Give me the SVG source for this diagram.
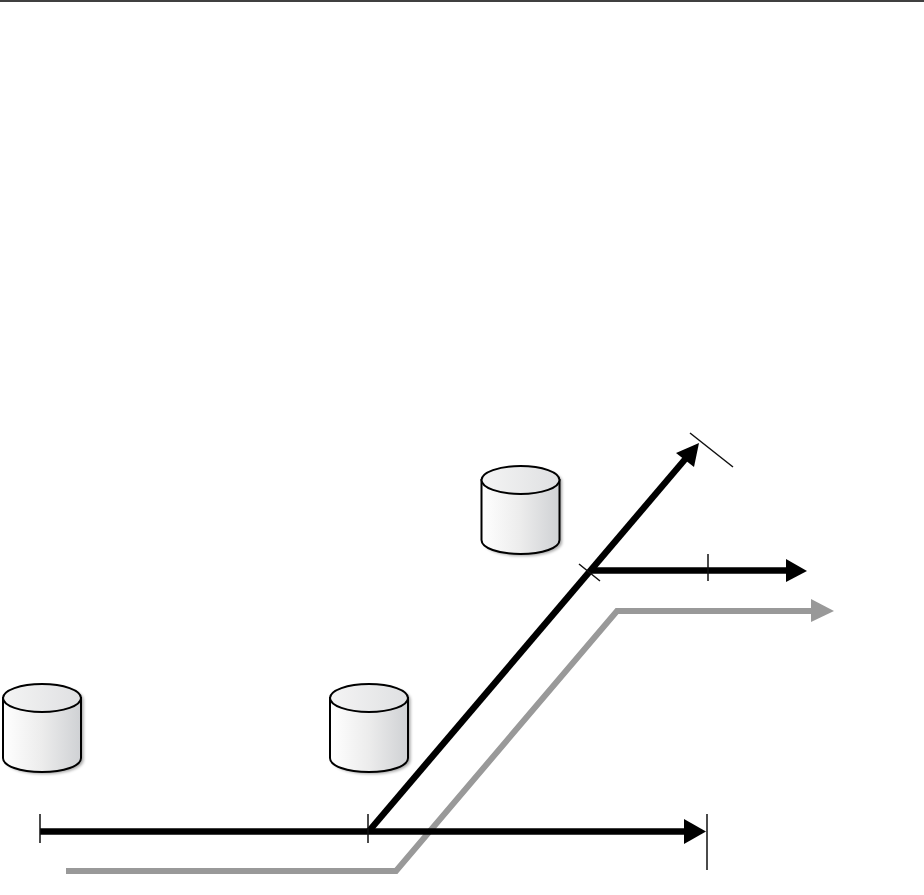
<svg xmlns="http://www.w3.org/2000/svg" width="924" height="895" viewBox="0 0 924 895">
<style>
.body{fill:url(#cyl);stroke:#000;stroke-width:2}
.top{fill:url(#cyltop);stroke:#000;stroke-width:2}
.shadow{fill:#000;opacity:.35;filter:url(#blur)}
.blk{fill:none;stroke:#000;stroke-width:6.500}
.gry{fill:none;stroke:#999;stroke-width:6}
.tick{fill:none;stroke:#111;stroke-width:1.500}
</style>
<defs>
<linearGradient id="cyl" x1="0" x2="1" y1="0" y2="0"><stop offset="0" stop-color="#fff"/><stop offset=".5" stop-color="#ececec"/><stop offset="1" stop-color="#cfd1d4"/></linearGradient>
<linearGradient id="cyltop" x1="0" x2="1" y1="0" y2="0"><stop offset="0" stop-color="#f4f4f4"/><stop offset="1" stop-color="#dfe0e2"/></linearGradient>
<filter id="blur" x="-20%" y="-20%" width="140%" height="140%"><feGaussianBlur stdDeviation="1.500"/></filter>
<path id="cylshadow" d="M0 14V74C0 82 17 88 39 88S78 82 78 74V14C78 6 61 0 39 0S0 6 0 14Z"/>
<path id="cylbody" d="M0 14V74C0 82 17 88 39 88S78 82 78 74V14Z"/>
<ellipse id="cyllid" cx="39" cy="14" rx="39" ry="14"/>
</defs>
<rect width="924" height="895" fill="#fff"/>
<line x1="0" y1="1" x2="924" y2="1" stroke="#000" stroke-width="1.500"/>
<g id="connectors">
<path class="gry" d="M66 871H396L617 611H814"/>
<polygon fill="#999" points="811,599 834,611 811,622"/>
<path class="blk" d="M40 831.500H685"/>
<polygon fill="#000" points="684,819 706,831.500 684,844"/>
<path class="blk" d="M369 831L687 457"/>
<polygon fill="#000" points="676,453 699,443 694,467"/>
<path class="blk" d="M591 570.500H786"/>
<polygon fill="#000" points="786,559 807,571 786,582"/>
<path class="tick" d="M40 814V843M368 814V843M707 814V870M708 554V581M579 564L600 581M690 433L733 467"/>
</g>
<g id="cylinder-top"><use href="#cylshadow" class="shadow" transform="translate(484 468)"/><use href="#cylbody" class="body" transform="translate(481.500 466)"/><use href="#cyllid" class="top" transform="translate(481.500 466)"/></g>
<g id="cylinder-left"><use href="#cylshadow" class="shadow" transform="translate(5.500 686)"/><use href="#cylbody" class="body" transform="translate(3 684)"/><use href="#cyllid" class="top" transform="translate(3 684)"/></g>
<g id="cylinder-mid"><use href="#cylshadow" class="shadow" transform="translate(332.500 686)"/><use href="#cylbody" class="body" transform="translate(330 684)"/><use href="#cyllid" class="top" transform="translate(330 684)"/></g>
</svg>
